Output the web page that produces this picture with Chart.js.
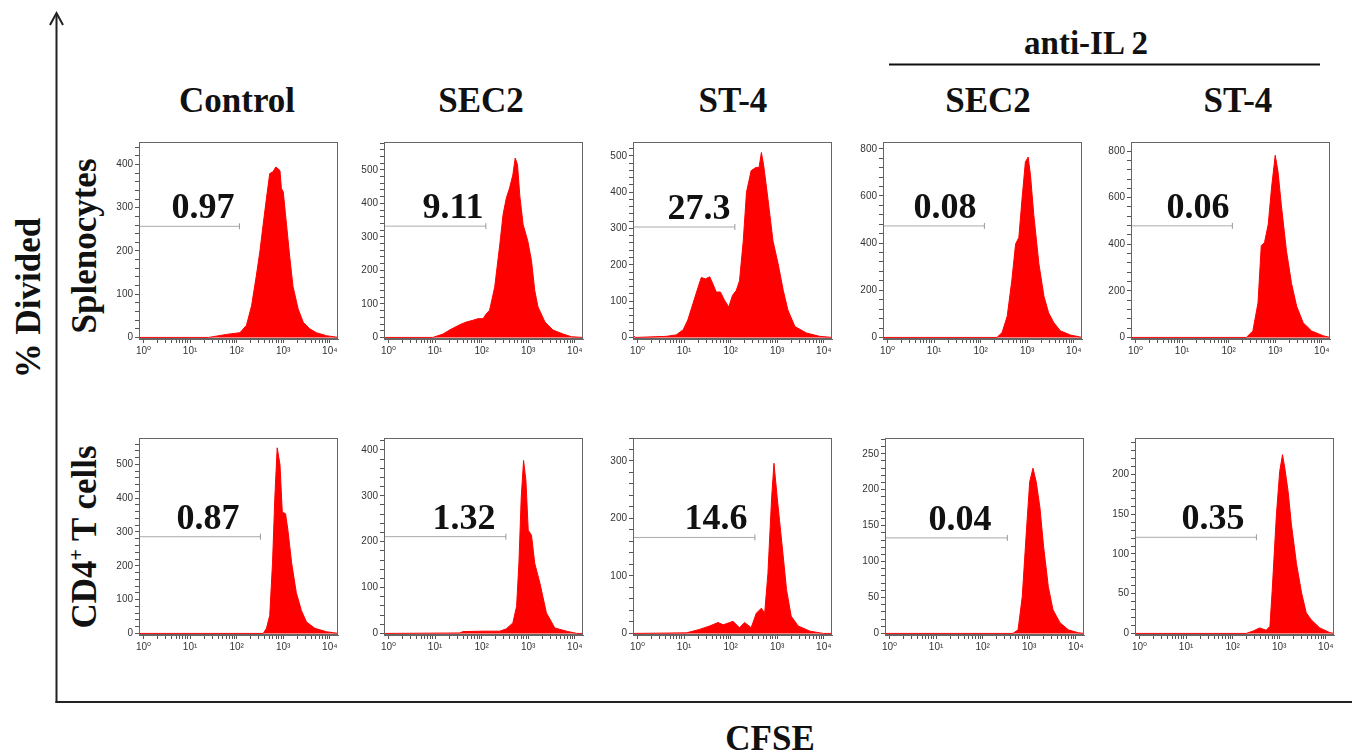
<!DOCTYPE html>
<html>
<head>
<meta charset="utf-8">
<script src="https://cdn.jsdelivr.net/npm/chart.js@4.4.1/dist/chart.umd.min.js"></script>
<style>
    html, body { margin: 0; padding: 0; background: #fff; }
    #fig { position: relative; width: 1367px; height: 753px; overflow: hidden; }
    .lbl {
        position: absolute;
        font-family: "Liberation Serif", "Times New Roman", serif;
        font-weight: bold;
        font-size: 35px;
        line-height: 35px;
        color: #111;
        white-space: nowrap;
        transform: translate(-50%, -50%);
    }
    .rot { transform: translate(-50%, -50%) rotate(-90deg); }
    .panel { position: absolute; }
    svg { position: absolute; left: 0; top: 0; }
</style>
</head>
<body>
<div id="fig">
    <svg width="1367" height="753">
        <line x1="56.5" y1="14" x2="56.5" y2="703" stroke="#222" stroke-width="2"/>
        <polyline points="50,25 56.5,13 63,25" fill="none" stroke="#222" stroke-width="2"/>
        <line x1="55.5" y1="702" x2="1352" y2="702" stroke="#222" stroke-width="2"/>
        <line x1="889" y1="64.5" x2="1320" y2="64.5" stroke="#111" stroke-width="2"/>
    </svg>
    <div class="lbl" style="left:1086px; top:43px; font-size:33px;">anti-IL 2</div>
    <div class="lbl" style="left:237px; top:100px;">Control</div>
    <div class="lbl" style="left:481px; top:100px;">SEC2</div>
    <div class="lbl" style="left:733px; top:100px;">ST-4</div>
    <div class="lbl" style="left:988px; top:100px;">SEC2</div>
    <div class="lbl" style="left:1238px; top:100px;">ST-4</div>
    <div class="lbl rot" style="left:84px; top:246px;">Splenocytes</div>
    <div class="lbl rot" style="left:84px; top:537px;">CD4<sup style="font-size:20px; line-height:0;">+</sup> T cells</div>
    <div class="lbl rot" style="left:28px; top:298px;">% Divided</div>
    <div class="lbl" style="left:770px; top:738px;">CFSE</div>
</div>

<script>
// CFSE histograms, points are [log10(CFSE), events]
const splControl = [[-0.1, 0], [1.4, 0], [1.78, 7], [2.07, 11], [2.21, 28], [2.32, 73], [2.42, 141], [2.5, 200], [2.57, 262], [2.64, 322], [2.71, 379], [2.78, 383], [2.84, 394], [2.89, 390], [2.93, 386], [2.96, 345], [3.0, 337], [3.07, 262], [3.14, 186], [3.21, 118], [3.32, 66], [3.43, 35], [3.57, 20], [3.71, 11], [3.93, 4], [4.18, 0]];
const splSec2 = [[-0.1, 0], [0.95, 0], [1.17, 10], [1.31, 22], [1.53, 38], [1.67, 46], [1.81, 51], [1.92, 56], [2.03, 56], [2.1, 71], [2.17, 81], [2.28, 150], [2.39, 278], [2.46, 367], [2.53, 416], [2.6, 446], [2.67, 485], [2.72, 535], [2.77, 515], [2.82, 421], [2.89, 337], [2.99, 288], [3.07, 229], [3.14, 140], [3.21, 91], [3.36, 46], [3.53, 22], [3.75, 10], [3.93, 2], [4.18, 0]];
const splSt4 = [[-0.1, 7], [-0.05, 0], [0.62, 3], [0.83, 7], [0.98, 21], [1.08, 48], [1.19, 93], [1.3, 138], [1.37, 165], [1.46, 161], [1.55, 167], [1.62, 147], [1.69, 125], [1.78, 125], [1.87, 102], [1.96, 84], [2.04, 116], [2.12, 129], [2.19, 156], [2.27, 265], [2.34, 400], [2.44, 459], [2.54, 468], [2.61, 468], [2.66, 509], [2.71, 473], [2.8, 382], [2.91, 265], [3.02, 202], [3.13, 129], [3.23, 75], [3.38, 30], [3.63, 12], [3.91, 3], [4.18, 0]];
const aIl2SplSec2 = [[-0.1, 0], [2.35, 0], [2.46, 21], [2.57, 90], [2.67, 243], [2.75, 396], [2.82, 424], [2.89, 591], [2.96, 744], [3.02, 765], [3.07, 688], [3.14, 522], [3.25, 313], [3.36, 174], [3.46, 104], [3.57, 63], [3.71, 28], [3.93, 10], [4.18, 0]];
const aIl2SplSt4 = [[-0.1, 0], [2.38, 0], [2.52, 28], [2.63, 148], [2.7, 394], [2.77, 408], [2.85, 486], [2.92, 641], [3.0, 782], [3.06, 711], [3.13, 570], [3.24, 373], [3.35, 232], [3.46, 134], [3.6, 63], [3.78, 28], [4.03, 7], [4.18, 0]];
const cd4Control = [[-0.1, 0], [2.57, 0], [2.64, 15], [2.71, 53], [2.77, 209], [2.82, 403], [2.87, 549], [2.93, 500], [2.98, 359], [3.05, 354], [3.1, 306], [3.18, 209], [3.28, 121], [3.39, 68], [3.5, 34], [3.68, 15], [3.93, 5], [4.18, 0]];
const cd4Sec2 = [[-0.1, 0], [1.53, 1], [1.6, 4], [2.03, 5], [2.39, 5], [2.53, 10], [2.67, 23], [2.75, 59], [2.8, 153], [2.85, 297], [2.9, 377], [2.95, 334], [3.0, 225], [3.07, 214], [3.14, 153], [3.25, 110], [3.39, 45], [3.57, 12], [3.82, 5], [4.04, 0], [4.18, 0]];
const cd4St4 = [[-0.1, 0], [1.05, 1], [1.33, 7], [1.55, 13], [1.73, 19], [1.84, 15], [1.98, 19], [2.05, 21], [2.19, 10], [2.3, 19], [2.44, 10], [2.55, 35], [2.66, 44], [2.73, 35], [2.8, 104], [2.88, 236], [2.93, 296], [3.0, 236], [3.05, 196], [3.13, 133], [3.2, 76], [3.3, 30], [3.45, 13], [3.7, 4], [3.99, 0], [4.18, 0]];
const aIl2Cd4Sec2 = [[-0.1, 0], [2.65, 0], [2.76, 5], [2.85, 51], [2.94, 143], [3.01, 211], [3.08, 230], [3.15, 211], [3.23, 175], [3.31, 120], [3.41, 65], [3.51, 33], [3.66, 15], [3.84, 5], [4.05, 1], [4.18, 0]];
const aIl2Cd4St4 = [[-0.1, 0], [2.29, 0], [2.44, 3], [2.58, 7], [2.72, 4], [2.8, 9], [2.85, 55], [2.94, 150], [3.01, 204], [3.07, 225], [3.12, 208], [3.19, 179], [3.26, 138], [3.37, 88], [3.48, 51], [3.58, 26], [3.69, 17], [3.87, 7], [4.09, 1], [4.18, 0]];

const histograms = [splControl, splSec2, splSt4, aIl2SplSec2, aIl2SplSt4, cd4Control, cd4Sec2, cd4St4, aIl2Cd4Sec2, aIl2Cd4St4];

// % divided gate: label, height (events), right end (log10 CFSE)
const gateLabels = ["0.97", "9.11", "27.3", "0.08", "0.06", "0.87", "1.32", "14.6", "0.04", "0.35"];
const gateLevels = [257, 332, 304, 473, 479, 286, 211, 167, 133, 121];
const gateEnds = [2.06, 2.09, 2.09, 2.08, 2.08, 2.51, 2.52, 2.52, 2.53, 2.51];

// y axes
const yMaxes = [452, 583, 538, 829, 839, 578, 426, 340, 272, 246];
const yMajorSteps = [100, 100, 100, 200, 200, 100, 100, 100, 50, 50];
const yMinorSteps = [20, 20, 20, 40, 40, 20, 20, 20, 10, 10];

// x axis
const xMin = 0.8;
const xMax = 15000;
const decadeLabels = { 1: "10\u2070", 10: "10\u00b9", 100: "10\u00b2", 1000: "10\u00b3", 10000: "10\u2074" };

// layout (px)
const plotLefts = [139, 384, 633, 883, 1131, 139, 384, 633, 885, 1135];
const plotTops = [140, 140, 140, 140, 140, 436, 436, 436, 436, 436];
const labelDx = [64, 69, 66, 62, 67, 69, 80, 83, 75, 78];
const PLOT = 199;
const Y_AXIS_W = 40;
const X_AXIS_H = 24;
const PAD_TOP = 6;
const PAD_RIGHT = 8;

const xTickValues = [];
for (let d = 1; d <= 1000; d *= 10) {
    for (let k = 1; k < 10; k++) xTickValues.push(k * d);
}
xTickValues.push(10000);

const framePlugin = {
    id: "frame",
    afterDraw(chart) {
        const { ctx, chartArea } = chart;
        ctx.save();
        ctx.strokeStyle = "#666";
        ctx.lineWidth = 1;
        ctx.strokeRect(chartArea.left + 0.5, chartArea.top + 0.5, chartArea.width - 1, chartArea.height - 1);
        ctx.restore();
    },
};

const gateLabelPlugin = {
    id: "gateLabel",
    afterDatasetsDraw(chart, args, opts) {
        const { ctx, chartArea, scales } = chart;
        const y = scales.y.getPixelForValue(opts.level);
        ctx.save();
        ctx.font = 'bold 36px "Liberation Serif", "Times New Roman", serif';
        ctx.fillStyle = "#111";
        ctx.textAlign = "center";
        ctx.textBaseline = "alphabetic";
        ctx.fillText(opts.text, chartArea.left + opts.dx, y - 8);
        ctx.restore();
    },
};

const tickFont = { family: '"Liberation Sans", Arial, "DejaVu Sans", sans-serif', size: 10 };

function makePanel(i) {
    const fig = document.getElementById("fig");
    const box = document.createElement("div");
    box.className = "panel";
    box.style.left = (plotLefts[i] - Y_AXIS_W) + "px";
    box.style.top = (plotTops[i] - PAD_TOP) + "px";
    const canvas = document.createElement("canvas");
    const w = Y_AXIS_W + PLOT + PAD_RIGHT;
    const h = PAD_TOP + PLOT + X_AXIS_H;
    canvas.width = w;
    canvas.height = h;
    canvas.style.width = w + "px";
    canvas.style.height = h + "px";
    box.appendChild(canvas);
    fig.appendChild(box);

    const major = yMajorSteps[i];

    new Chart(canvas, {
        type: "line",
        data: {
            datasets: [
                {
                    label: "gate",
                    data: [{ x: xMin, y: gateLevels[i] }, { x: Math.pow(10, gateEnds[i]), y: gateLevels[i] }],
                    borderColor: "#aaa",
                    borderWidth: 1,
                    pointRadius: [0, 3],
                    pointStyle: "line",
                    pointRotation: 90,
                    pointBorderColor: "#999",
                    pointBorderWidth: 1,
                    fill: false,
                },
                {
                    label: "CFSE",
                    data: histograms[i].map(([e, n]) => ({ x: Math.pow(10, e), y: n })),
                    borderColor: "#ff0000",
                    backgroundColor: "#ff0000",
                    borderWidth: 1,
                    pointRadius: 0,
                    tension: 0,
                    fill: "origin",
                },
            ],
        },
        options: {
            responsive: false,
            animation: false,
            devicePixelRatio: 1,
            events: [],
            layout: { padding: { top: PAD_TOP, right: PAD_RIGHT, left: 0, bottom: 0 } },
            plugins: {
                legend: { display: false },
                tooltip: { enabled: false },
                gateLabel: { text: gateLabels[i], level: gateLevels[i], dx: labelDx[i] },
            },
            scales: {
                x: {
                    type: "logarithmic",
                    min: xMin,
                    max: xMax,
                    afterBuildTicks: (scale) => {
                        scale.ticks = xTickValues.map((v) => ({ value: v, major: v in decadeLabels }));
                    },
                    afterFit: (scale) => { scale.height = X_AXIS_H; },
                    ticks: {
                        autoSkip: false,
                        maxRotation: 0,
                        minRotation: 0,
                        padding: 2,
                        color: "#333",
                        font: tickFont,
                        callback: (v) => decadeLabels[v] || "",
                    },
                    grid: { drawOnChartArea: false, drawTicks: true, tickLength: 4, tickColor: "#555" },
                    border: { display: true, color: "#666" },
                },
                y: {
                    min: -0.008 * yMaxes[i],
                    max: yMaxes[i],
                    afterFit: (scale) => { scale.width = Y_AXIS_W; },
                    ticks: {
                        stepSize: yMinorSteps[i],
                        includeBounds: false,
                        autoSkip: false,
                        padding: 2,
                        color: "#333",
                        font: tickFont,
                        callback: (v) => (v % major === 0 ? String(v) : ""),
                    },
                    grid: { drawOnChartArea: false, drawTicks: true, tickLength: 4, tickColor: "#555" },
                    border: { display: true, color: "#666" },
                },
            },
        },
        plugins: [framePlugin, gateLabelPlugin],
    });
}

for (let i = 0; i < histograms.length; i++) makePanel(i);
</script>
</body>
</html>
